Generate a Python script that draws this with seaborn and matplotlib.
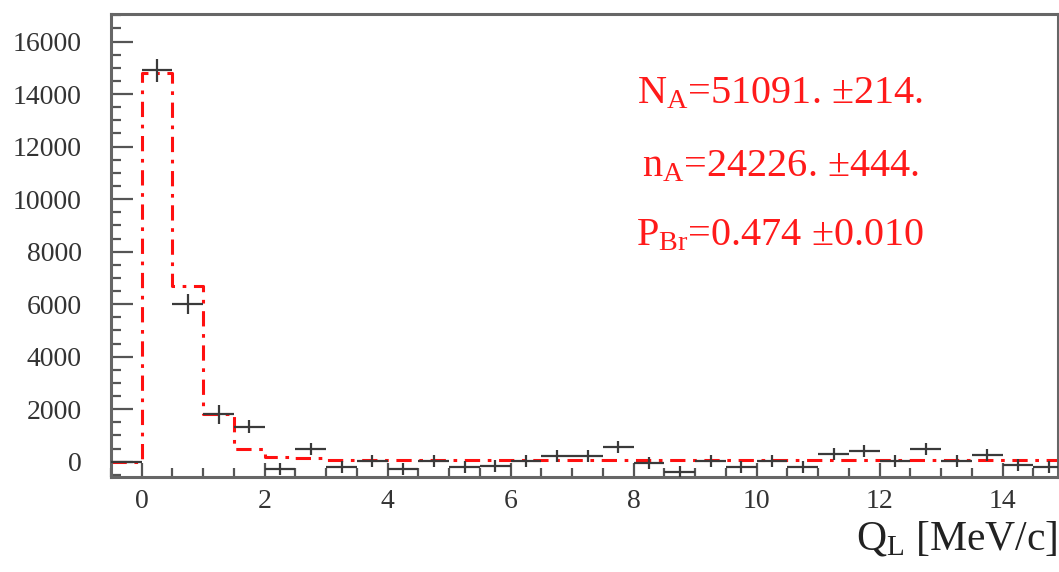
import numpy as np
import pandas as pd
import seaborn as sns
import matplotlib.pyplot as plt
from matplotlib.ticker import MultipleLocator

# bin centres of Q_L [MeV/c], bin width 0.5
q_centers = [-0.25, 0.25, 0.75, 1.25, 1.75, 2.25, 2.75, 3.25, 3.75, 4.25, 4.75,
             5.25, 5.75, 6.25, 6.75, 7.25, 7.75, 8.25, 8.75, 9.25, 9.75, 10.25,
             10.75, 11.25, 11.75, 12.25, 12.75, 13.25, 13.75, 14.25, 14.75]

# measured counts (black crosses) and their errors
counts = [0, 14900, 6000, 1800, 1330, -280, 470, -190, 20, -290, 20,
          -190, -170, 30, 230, 230, 570, -40, -400, 20, -190, 40,
          -190, 280, 420, 40, 480, 20, 250, -140, -190]
errors = [0, 420, 380, 350, 250, 230, 230, 230, 230, 230, 230,
          230, 230, 230, 230, 230, 230, 230, 230, 230, 230, 230,
          230, 230, 230, 230, 230, 230, 230, 230, 230]

# fitted distribution (red dash-dot histogram)
fit = [0, 14800, 6700, 1800, 470, 190, 140, 80, 80, 80, 80,
       70, 70, 70, 70, 70, 70, 70, 70, 70, 70, 70,
       70, 70, 70, 70, 70, 70, 70, 70, 70]

half_width = 0.25
fit_df = pd.DataFrame({
    'edge': [c - half_width for c in q_centers] + [q_centers[-1] + half_width],
    'fit': fit + [fit[-1]],
})

sns.set_theme(style='ticks')
plt.rcParams['font.family'] = ['Liberation Serif', 'DejaVu Serif']
plt.rcParams['mathtext.fontset'] = 'custom'
plt.rcParams['mathtext.rm'] = 'Liberation Serif'
plt.rcParams['mathtext.it'] = 'Liberation Serif'

fig = plt.figure(figsize=(10.59, 5.72), dpi=100)
ax = fig.add_axes([0.1048, 0.1666, 0.8943, 0.8089])

# data points
ax.errorbar(q_centers, counts, xerr=half_width, yerr=errors, fmt='none',
            ecolor='#3a3a3a', elinewidth=1.6, capsize=0, zorder=3)

# fit histogram
sns.lineplot(data=fit_df, x='edge', y='fit', drawstyle='steps-post', ax=ax,
             color='#ff1010', linewidth=2.2, dashes=False, zorder=2)
ax.lines[-1].set_dashes([5, 2.5, 1.2, 2.5])

ax.set_xlim(-0.5, 14.9)
ax.set_ylim(-570, 17050)

ax.xaxis.set_major_locator(MultipleLocator(2))
ax.xaxis.set_minor_locator(MultipleLocator(0.5))
ax.yaxis.set_major_locator(MultipleLocator(2000))
ax.yaxis.set_minor_locator(MultipleLocator(500))

ax.tick_params(axis='both', which='both', direction='in', color='#555555',
               labelcolor='#333333', labelsize=20, width=1.6)
ax.tick_params(axis='y', which='major', length=16, pad=21)
ax.tick_params(axis='y', which='minor', length=7)
ax.tick_params(axis='x', which='major', length=10, pad=9)
ax.tick_params(axis='x', which='minor', length=6.5)
ax.tick_params(top=False, right=False, which='both')

for side in ['left', 'bottom', 'top', 'right']:
    ax.spines[side].set_color('#666666')
    ax.spines[side].set_linewidth(2.2)

ax.set_xlabel(r'$\mathrm{Q_{L}}$ [MeV/c]', fontsize=30, color='#222222',
              loc='right', labelpad=4)
ax.set_ylabel('')

red = '#ff1a1a'
ax.text(10.38, 13650, r'$\mathrm{N_{A}}$=51091. ±214.', color=red, fontsize=29,
        ha='center', va='baseline')
ax.text(10.38, 10870, r'$\mathrm{n_{A}}$=24226. ±444.', color=red, fontsize=29,
        ha='center', va='baseline')
ax.text(10.38, 8250, r'$\mathrm{P_{Br}}$=0.474 ±0.010', color=red, fontsize=29,
        ha='center', va='baseline')

fig.savefig('out.png', dpi=100)
